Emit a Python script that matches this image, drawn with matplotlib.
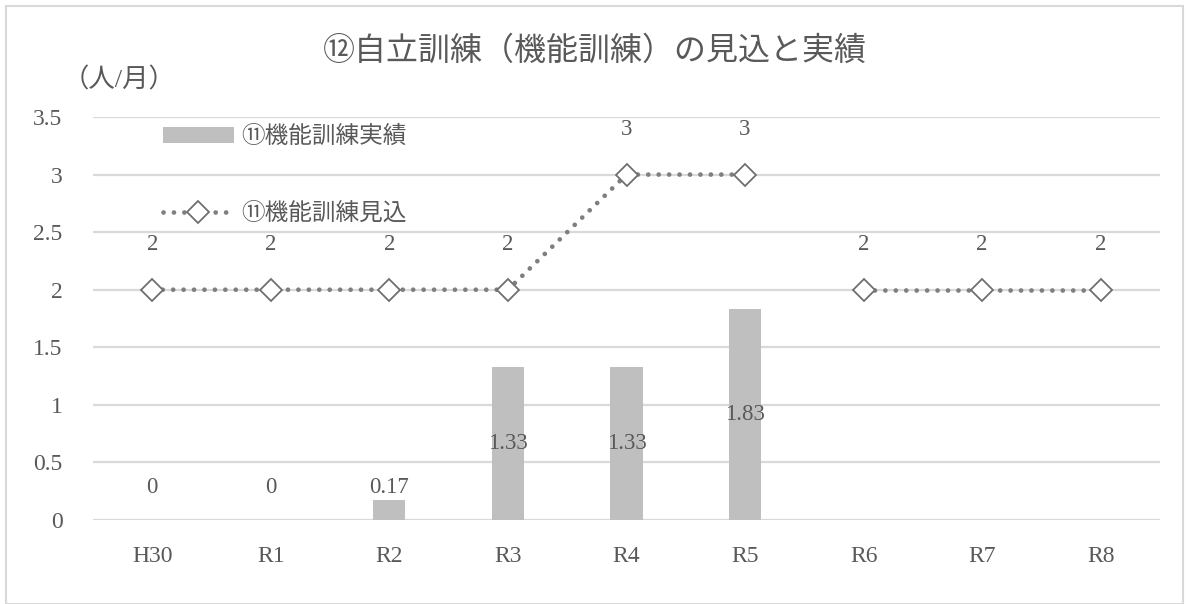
import matplotlib
matplotlib.use('Agg')
import matplotlib.pyplot as plt
import numpy as np

plt.rcParams['font.family'] = ['Liberation Serif', 'Noto Sans CJK JP', 'DejaVu Sans']

categories = ['H30', 'R1', 'R2', 'R3', 'R4', 'R5', 'R6', 'R7', 'R8']
actual = [0, 0, 0.17, 1.33, 1.33, 1.83]          # 実績 (H30..R5)
planned = [2, 2, 2, 2, 3, 3, 2, 2, 2]             # 見込
planned_segments = [(0, 6), (6, 9)]               # the line breaks between R5 and R6
y_ticks = [0, 0.5, 1, 1.5, 2, 2.5, 3, 3.5]

text_color = '#595959'
grid_color = '#d9d9d9'
bar_color = '#bfbfbf'
line_color = '#7f7f7f'

fig = plt.figure(figsize=(11.89, 6.04), dpi=100)
ax = fig.add_axes([93 / 1189, 1 - 520 / 604, 1067 / 1189, 403 / 604])

x = np.arange(len(categories))

ax.set_ylim(0, 3.5)
ax.set_xlim(-0.5, len(categories) - 0.5)
ax.set_yticks(y_ticks)
ax.set_yticklabels([f'{t:g}' for t in y_ticks])
ax.set_xticks(x)
ax.set_xticklabels(categories)
ax.tick_params(length=0, labelsize=17, colors=text_color)
ax.tick_params(axis='y', pad=22)
ax.tick_params(axis='x', pad=19)
ax.yaxis.grid(True, color=grid_color, lw=1.6)
ax.set_axisbelow(True)
for s in ax.spines.values():
    s.set_visible(False)

bars = ax.bar(x[:len(actual)], actual, width=0.27, color=bar_color, zorder=2,
              label='⑪機能訓練実績')
for xi, v in zip(x, actual):
    ax.text(xi, max(v / 2, 0.28), f'{v:g}', ha='center', va='center',
            fontsize=16.5, color=text_color, zorder=4)

line_handle = None
for a, b in planned_segments:
    line_handle, = ax.plot(x[a:b], planned[a:b], color=line_color, lw=3.4,
                           linestyle=(0, (0.01, 2.2)), dash_capstyle='round',
                           marker='D', ms=11, mfc='white', mec='#6f6f6f', mew=1.3,
                           zorder=3, label='⑪機能訓練見込')
for xi, v in zip(x, planned):
    ax.text(xi, v + 0.39, f'{v:g}', ha='center', va='center',
            fontsize=16.5, color=text_color, zorder=4)

fig.legend(handles=[bars, line_handle], loc='upper left',
           bbox_to_anchor=(163 / 1189, 1 - 126 / 604), frameon=False,
           fontsize=17, handlelength=3.0, handletextpad=0.3, labelspacing=2.3,
           borderpad=0, borderaxespad=0, labelcolor=text_color)

fig.text(595 / 1189, 1 - 52 / 604, '⑫自立訓練（機能訓練）の見込と実績',
         ha='center', va='center', fontsize=23, color=text_color)
fig.text(63 / 1189, 1 - 80 / 604, '（人/月）', ha='left', va='center',
         fontsize=19, color=text_color)

fig.patches.append(plt.Rectangle((6 / 1189, 0), 1 - 12 / 1189, 1 - 6 / 604,
                                 transform=fig.transFigure, fill=False,
                                 edgecolor=grid_color, lw=1.5))

fig.savefig('out.png', dpi=100)
